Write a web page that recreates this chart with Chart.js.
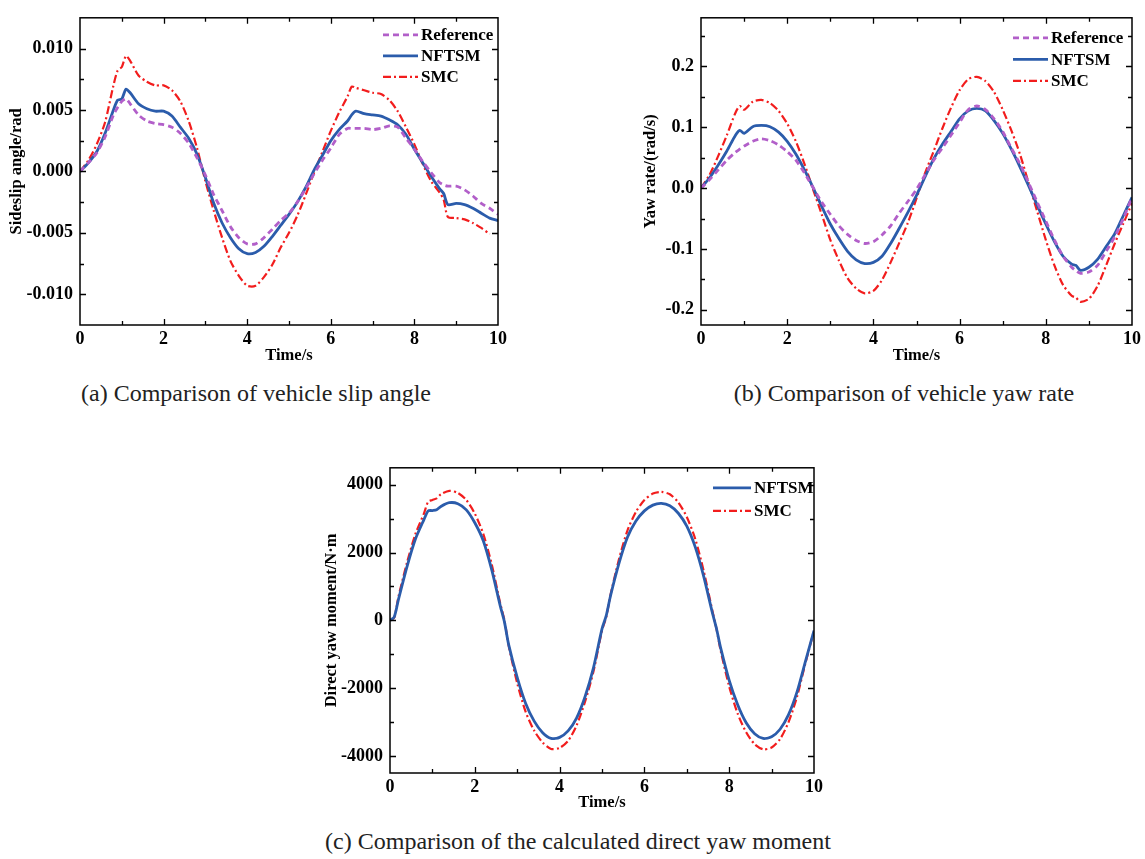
<!DOCTYPE html>
<html>
<head>
<meta charset="utf-8">
<title>Vehicle stability comparison</title>
<script src="https://cdn.jsdelivr.net/npm/chart.js@4.4.0/dist/chart.umd.min.js"></script>
<style>
    body {
        margin: 0;
        width: 1145px;
        height: 859px;
        background: #fff;
        position: relative;
        overflow: hidden;
        font-family: "Liberation Serif", "Times New Roman", serif;
    }
    canvas { position: absolute; }
    .caption {
        position: absolute;
        font-size: 24px;
        line-height: 26px;
        color: #222;
        white-space: nowrap;
        transform: translateX(-50%);
    }
</style>
</head>
<body>
<canvas id="chartA" width="520" height="370" style="left:0;top:0"></canvas>
<canvas id="chartB" width="515" height="370" style="left:630px;top:0"></canvas>
<canvas id="chartC" width="510" height="370" style="left:320px;top:450px"></canvas>

<div class="caption" style="left:256px;top:380px">(a) Comparison of vehicle slip angle</div>
<div class="caption" style="left:904px;top:380px">(b) Comparison of vehicle yaw rate</div>
<div class="caption" style="left:578px;top:828px">(c) Comparison of the calculated direct yaw moment</div>

<script>
// Tick labels
const xTicks = [0, 2, 4, 6, 8, 10];
const yTicksA = [-0.010, -0.005, 0, 0.005, 0.010];
const yTicksB = [-0.2, -0.1, 0, 0.1, 0.2];
const yTicksC = [-4000, -2000, 0, 2000, 4000];

// (a) sideslip angle / rad
const timeA = [0, 0.2, 0.4, 0.6, 0.8, 0.9, 1.0, 1.1, 1.2, 1.4, 1.6, 1.8, 2.0, 2.2, 2.4, 2.6, 2.8, 3.0, 3.2, 3.4, 3.6, 3.8, 4.0, 4.2, 4.4, 4.6, 4.8, 5.0, 5.2, 5.4, 5.6, 5.8, 6.0, 6.2, 6.4, 6.5, 6.6, 6.8, 7.0, 7.2, 7.4, 7.6, 7.8, 8.0, 8.2, 8.4, 8.6, 8.7, 8.8, 9.0, 9.2, 9.4, 9.6, 9.8, 10];
const refA = [0, 0.0007, 0.0015, 0.0028, 0.0046, 0.0052, 0.0057, 0.0059, 0.0055, 0.0046, 0.0041, 0.0039, 0.0038, 0.0036, 0.0031, 0.0023, 0.0011, -0.0003, -0.0019, -0.0032, -0.0045, -0.0054, -0.0059, -0.0059, -0.0054, -0.0047, -0.0040, -0.0034, -0.0025, -0.0014, -0.0002, 0.0009, 0.0019, 0.0030, 0.0035, 0.0035, 0.0035, 0.0035, 0.0034, 0.0035, 0.0037, 0.0036, 0.0027, 0.0018, 0.0008, -0.0001, -0.0009, -0.0011, -0.0012, -0.0012, -0.0015, -0.0020, -0.0026, -0.0030, -0.0035];
const nftsmA = [0, 0.0007, 0.0016, 0.0031, 0.0050, 0.0058, 0.0059, 0.0067, 0.0064, 0.0055, 0.0051, 0.0049, 0.0049, 0.0045, 0.0036, 0.0027, 0.0014, -0.0005, -0.0026, -0.0042, -0.0054, -0.0063, -0.0067, -0.0066, -0.0061, -0.0053, -0.0044, -0.0035, -0.0025, -0.0013, 0.0001, 0.0013, 0.0025, 0.0034, 0.0041, 0.0046, 0.0049, 0.0047, 0.0046, 0.0045, 0.0042, 0.0038, 0.0030, 0.0018, 0.0007, -0.0004, -0.0014, -0.0018, -0.0027, -0.0026, -0.0027, -0.0030, -0.0034, -0.0038, -0.0040];
const smcA = [0, 0.0009, 0.0022, 0.0040, 0.0070, 0.0082, 0.0085, 0.0094, 0.0090, 0.0078, 0.0073, 0.0070, 0.0070, 0.0066, 0.0057, 0.0041, 0.0019, -0.0008, -0.0032, -0.0054, -0.0073, -0.0085, -0.0093, -0.0093, -0.0086, -0.0076, -0.0062, -0.0050, -0.0036, -0.0019, -0.0001, 0.0016, 0.0033, 0.0048, 0.0061, 0.0069, 0.0068, 0.0066, 0.0064, 0.0063, 0.0058, 0.0049, 0.0036, 0.0022, 0.0006, -0.0008, -0.0017, -0.0023, -0.0037, -0.0038, -0.0039, -0.0042, -0.0046, -0.0051, null];

// (b) yaw rate / (rad/s)
const timeB = [0, 0.2, 0.4, 0.6, 0.8, 0.9, 1.0, 1.2, 1.4, 1.6, 1.8, 2.0, 2.2, 2.4, 2.6, 2.8, 3.0, 3.2, 3.4, 3.6, 3.8, 4.0, 4.2, 4.4, 4.6, 4.8, 5.0, 5.2, 5.4, 5.6, 5.8, 6.0, 6.2, 6.4, 6.6, 6.8, 7.0, 7.2, 7.4, 7.6, 7.8, 8.0, 8.2, 8.4, 8.6, 8.7, 8.8, 9.0, 9.2, 9.4, 9.6, 9.8, 10];
const refB = [0, 0.014, 0.030, 0.046, 0.059, 0.064, 0.069, 0.077, 0.081, 0.078, 0.071, 0.060, 0.046, 0.025, 0.001, -0.023, -0.043, -0.062, -0.076, -0.086, -0.091, -0.088, -0.077, -0.062, -0.041, -0.022, -0.002, 0.022, 0.046, 0.066, 0.087, 0.108, 0.129, 0.135, 0.129, 0.114, 0.093, 0.066, 0.040, 0.009, -0.023, -0.054, -0.085, -0.112, -0.130, -0.136, -0.140, -0.138, -0.127, -0.104, -0.080, -0.050, -0.015];
const nftsmB = [0, 0.017, 0.038, 0.061, 0.087, 0.095, 0.090, 0.101, 0.103, 0.101, 0.092, 0.077, 0.056, 0.030, 0.001, -0.030, -0.059, -0.083, -0.104, -0.118, -0.124, -0.122, -0.112, -0.091, -0.066, -0.040, -0.012, 0.019, 0.048, 0.072, 0.093, 0.114, 0.127, 0.131, 0.127, 0.111, 0.090, 0.064, 0.035, 0.004, -0.028, -0.059, -0.088, -0.112, -0.125, -0.127, -0.135, -0.130, -0.117, -0.096, -0.075, -0.045, -0.015];
const smcB = [0, 0.022, 0.053, 0.087, 0.124, 0.135, 0.129, 0.142, 0.145, 0.140, 0.127, 0.106, 0.077, 0.040, -0.002, -0.043, -0.085, -0.119, -0.148, -0.165, -0.173, -0.169, -0.151, -0.122, -0.090, -0.057, -0.017, 0.025, 0.061, 0.098, 0.132, 0.161, 0.179, 0.183, 0.176, 0.158, 0.129, 0.095, 0.056, 0.009, -0.038, -0.085, -0.127, -0.159, -0.177, -0.180, -0.187, -0.182, -0.161, -0.127, -0.091, -0.058, -0.025];

// (c) direct yaw moment / N·m
const timeC = [0, 0.1, 0.2, 0.4, 0.6, 0.8, 0.9, 1.0, 1.1, 1.2, 1.4, 1.6, 1.8, 2.0, 2.2, 2.4, 2.6, 2.7, 2.8, 3.0, 3.2, 3.4, 3.6, 3.8, 4.0, 4.2, 4.4, 4.6, 4.8, 5.0, 5.1, 5.2, 5.4, 5.6, 5.8, 6.0, 6.2, 6.4, 6.6, 6.8, 7.0, 7.2, 7.4, 7.6, 7.7, 7.8, 8.0, 8.2, 8.4, 8.6, 8.8, 9.0, 9.2, 9.4, 9.6, 9.8, 10];
const nftsmC = [0, 100, 620, 1580, 2400, 2970, 3230, 3240, 3260, 3360, 3470, 3440, 3260, 2880, 2350, 1490, 430, -50, -720, -1680, -2450, -2970, -3310, -3480, -3450, -3260, -2880, -2250, -1390, -250, 140, 720, 1680, 2450, 2930, 3230, 3400, 3450, 3380, 3160, 2780, 2160, 1290, 240, -240, -820, -1770, -2490, -3020, -3340, -3480, -3430, -3210, -2780, -2110, -1200, -300];
const smcC = [0, 80, 700, 1700, 2550, 3150, 3500, 3550, 3600, 3720, 3820, 3760, 3550, 3150, 2550, 1650, 500, 0, -750, -1850, -2700, -3250, -3600, -3790, -3760, -3550, -3100, -2400, -1500, -300, 100, 750, 1800, 2650, 3200, 3550, 3740, 3790, 3720, 3480, 3050, 2400, 1450, 300, -250, -900, -1950, -2750, -3300, -3650, -3800, -3750, -3500, -3000, -2250, -1250, -300];

// Line styles
const REF_STYLE = { label: 'Reference', color: '#b25fc9', width: 2.8, dash: [6, 4] };
const NFTSM_STYLE = { label: 'NFTSM', color: '#2b5cab', width: 2.8, dash: [] };
const SMC_STYLE = { label: 'SMC', color: '#f21d1d', width: 2.2, dash: [8, 3, 2, 3] };

const FONT = '"Liberation Serif", "Times New Roman", serif';
Chart.defaults.font.family = FONT;
Chart.defaults.color = '#000';

// Box around the plot with inward major/minor ticks on all four sides
const frameTicks = {
    id: 'frameTicks',
    afterDraw(chart, args, opts) {
        const { ctx, chartArea: a, scales: { x, y } } = chart;
        const minors = (majors, min, max) => {
            const step = majors[1] - majors[0];
            const out = [];
            for (let i = -1; i < majors.length; i++) {
                const v = (i < 0 ? majors[0] : majors[i]) + (i < 0 ? -step / 2 : step / 2);
                if (v > min + 1e-9 && v < max - 1e-9) out.push(v);
            }
            return out;
        };
        ctx.save();
        ctx.strokeStyle = '#000';
        ctx.lineWidth = 1.5;
        ctx.strokeRect(a.left, a.top, a.right - a.left, a.bottom - a.top);
        ctx.lineWidth = 1.3;
        const drawX = (vals, len) => vals.forEach(v => {
            const px = Math.round(x.getPixelForValue(v)) + 0.5;
            ctx.beginPath();
            ctx.moveTo(px, a.bottom); ctx.lineTo(px, a.bottom - len);
            ctx.moveTo(px, a.top); ctx.lineTo(px, a.top + len);
            ctx.stroke();
        });
        const drawY = (vals, len) => vals.forEach(v => {
            const py = Math.round(y.getPixelForValue(v)) + 0.5;
            ctx.beginPath();
            ctx.moveTo(a.left, py); ctx.lineTo(a.left + len, py);
            ctx.moveTo(a.right, py); ctx.lineTo(a.right - len, py);
            ctx.stroke();
        });
        drawX(xTicks.filter(v => v > x.min && v < x.max), 6);
        drawX(minors(xTicks, x.min, x.max), 4);
        drawY(opts.yTicks.filter(v => v > y.min && v < y.max), 6);
        drawY(minors(opts.yTicks, y.min, y.max), 4);
        ctx.restore();
    }
};

// Legend drawn inside the top-right corner of the plot
const innerLegend = {
    id: 'innerLegend',
    afterDraw(chart, args, o) {
        const { ctx, chartArea: a } = chart;
        chart.data.datasets.forEach((ds, i) => {
            const y = a.top + o.top + i * o.gap;
            const x0 = a.right - o.right;
            ctx.save();
            ctx.strokeStyle = ds.borderColor;
            ctx.lineWidth = ds.borderWidth;
            ctx.setLineDash(ds.borderDash || []);
            ctx.beginPath();
            ctx.moveTo(x0, y);
            ctx.lineTo(x0 + o.len, y);
            ctx.stroke();
            ctx.setLineDash([]);
            ctx.fillStyle = '#000';
            ctx.font = 'bold 17px ' + FONT;
            ctx.textBaseline = 'middle';
            ctx.fillText(ds.label, x0 + o.len + 3, y + 1);
            ctx.restore();
        });
    }
};

function makeChart(id, cfg) {
    const datasets = cfg.series.map(s => ({
        label: s.style.label,
        data: cfg.time.map((t, i) => ({ x: t, y: s.values[i] })),
        borderColor: s.style.color,
        borderWidth: s.style.width,
        borderDash: s.style.dash,
        pointRadius: 0,
        tension: 0.25,
        fill: false
    }));

    return new Chart(document.getElementById(id), {
        type: 'line',
        data: { datasets },
        options: {
            responsive: false,
            animation: false,
            events: [],
            layout: { padding: cfg.padding },
            plugins: {
                legend: { display: false },
                tooltip: { enabled: false },
                frameTicks: { yTicks: cfg.yTicks },
                innerLegend: cfg.legend
            },
            scales: {
                x: {
                    type: 'linear',
                    min: 0,
                    max: 10,
                    afterBuildTicks: s => { s.ticks = xTicks.map(v => ({ value: v })); },
                    afterFit: s => { s.height = cfg.xHeight; },
                    grid: { display: false, drawTicks: false },
                    border: { display: false },
                    ticks: {
                        padding: 4,
                        maxRotation: 0,
                        autoSkip: false,
                        font: { size: 18, weight: 'bold' },
                        callback: v => String(v)
                    },
                    title: {
                        display: true,
                        text: 'Time/s',
                        font: { size: 16.5, weight: 'bold' },
                        padding: { top: 0, bottom: cfg.xTitlePad }
                    }
                },
                y: {
                    type: 'linear',
                    min: cfg.yMin,
                    max: cfg.yMax,
                    afterBuildTicks: s => { s.ticks = cfg.yTicks.map(v => ({ value: v })); },
                    afterFit: s => { s.width = cfg.yWidth; },
                    grid: { display: false, drawTicks: false },
                    border: { display: false },
                    ticks: {
                        padding: 7,
                        autoSkip: false,
                        font: { size: 18, weight: 'bold' },
                        callback: cfg.yFormat
                    },
                    title: {
                        display: true,
                        text: cfg.yTitle,
                        font: { size: 16.5, weight: 'bold' },
                        padding: { top: cfg.yTitlePad, bottom: 0 }
                    }
                }
            }
        },
        plugins: [frameTicks, innerLegend]
    });
}

makeChart('chartA', {
    time: timeA,
    series: [
        { style: REF_STYLE, values: refA },
        { style: NFTSM_STYLE, values: nftsmA },
        { style: SMC_STYLE, values: smcA }
    ],
    yMin: -0.0125, yMax: 0.0125,
    yTicks: yTicksA,
    yFormat: v => v.toFixed(3),
    yTitle: 'Sideslip angle/rad',
    padding: { left: 0, top: 15, right: 22, bottom: 0 },
    yWidth: 80, xHeight: 45, yTitlePad: 7, xTitlePad: 4,
    legend: { top: 17, gap: 21, right: 115, len: 35 }
});

makeChart('chartB', {
    time: timeB,
    series: [
        { style: REF_STYLE, values: refB },
        { style: NFTSM_STYLE, values: nftsmB },
        { style: SMC_STYLE, values: smcB }
    ],
    yMin: -0.225, yMax: 0.28,
    yTicks: yTicksB,
    yFormat: v => v.toFixed(1),
    yTitle: 'Yaw rate/(rad/s)',
    padding: { left: 0, top: 4, right: 13, bottom: 0 },
    yWidth: 71, xHeight: 45, yTitlePad: 11, xTitlePad: 4,
    legend: { top: 20, gap: 21.5, right: 119, len: 35 }
});

makeChart('chartC', {
    time: timeC,
    series: [
        { style: NFTSM_STYLE, values: nftsmC },
        { style: SMC_STYLE, values: smcC }
    ],
    yMin: -4500, yMax: 4500,
    yTicks: yTicksC,
    yFormat: v => String(v),
    yTitle: 'Direct yaw moment/N\u00b7m',
    padding: { left: 0, top: 10, right: 16, bottom: 0 },
    yWidth: 70, xHeight: 47, yTitlePad: 2, xTitlePad: 7,
    legend: { top: 20, gap: 23, right: 101, len: 38 }
});
</script>
</body>
</html>
